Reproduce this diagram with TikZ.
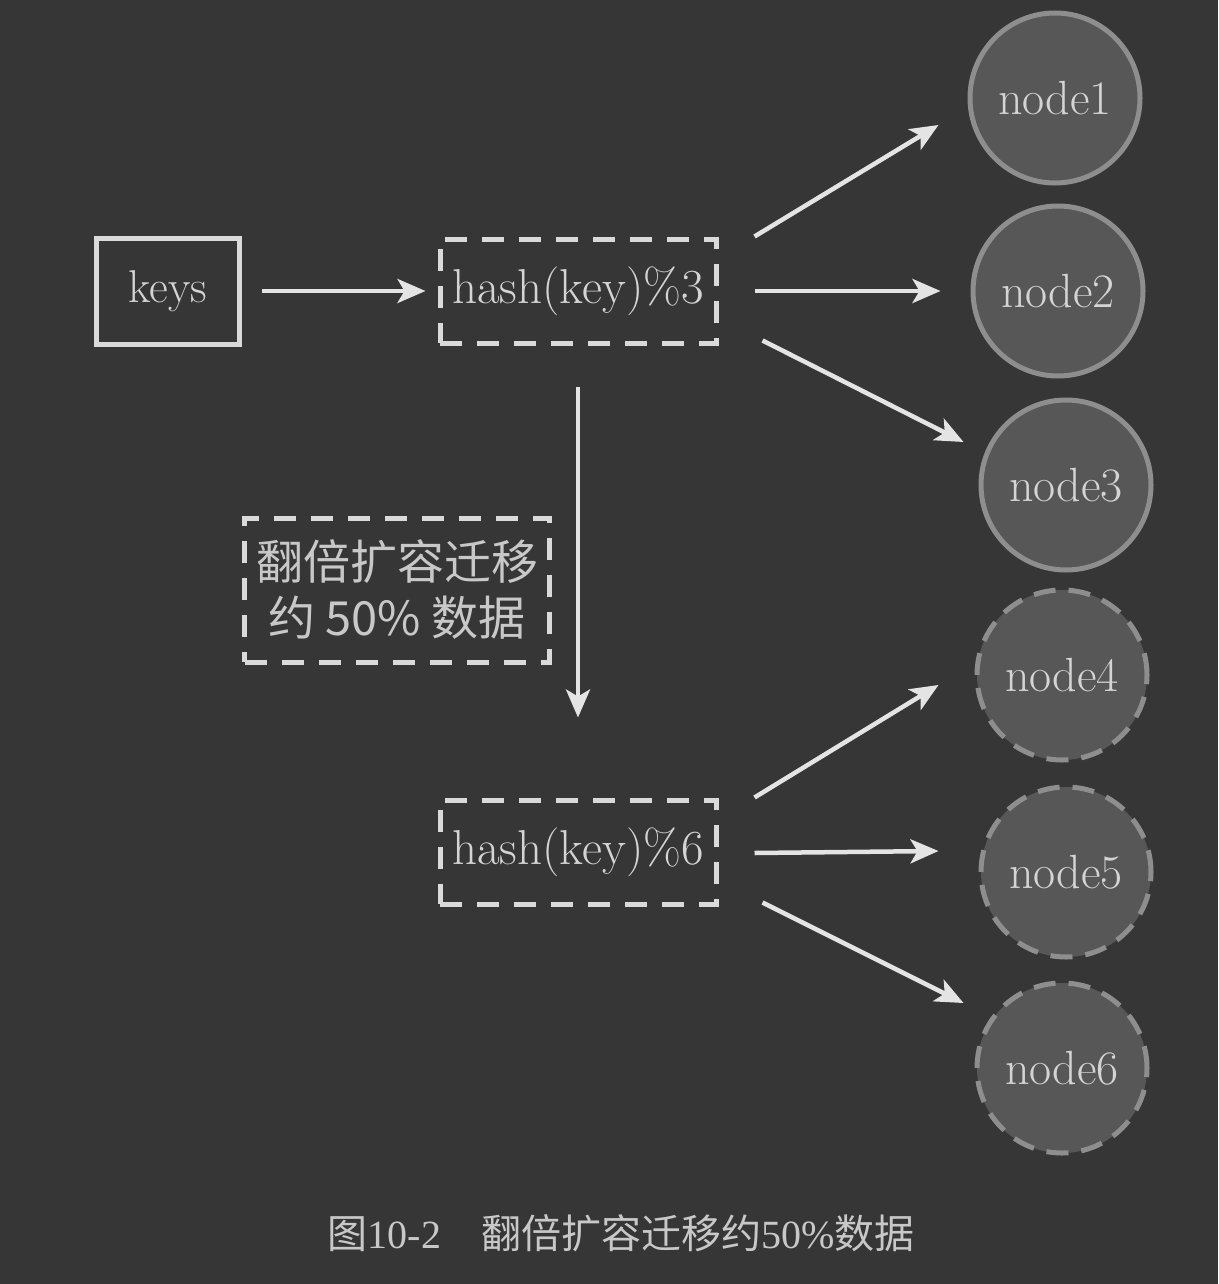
\documentclass[tikz,border=0pt]{standalone}
\usepackage{fontspec}
\newfontfamily\cjk{Noto Sans CJK SC}
\newfontfamily\capserif{Liberation Serif}
\usetikzlibrary{arrows.meta,calc}
\definecolor{bgc}{HTML}{363636}
\definecolor{linec}{HTML}{DADADA}
\definecolor{textc}{HTML}{D4D4D4}
\definecolor{circfill}{HTML}{575757}
\definecolor{circline}{HTML}{8E8E8E}
\definecolor{arrowc}{HTML}{E4E4E4}
\definecolor{capc}{HTML}{C8C8C8}
\tikzset{
  solidbox/.style={draw=linec, line width=5pt, minimum width=143pt, minimum height=106pt, inner sep=0pt, text=textc, font=\fontsize{46}{54}\selectfont},
  dashbox/.style={draw=linec, line width=5pt, dash pattern=on 22pt off 15pt, minimum width=276pt, minimum height=104pt, inner sep=0pt, text=textc, font=\fontsize{49}{56}\selectfont},
  notebox/.style={draw=linec, line width=5pt, dash pattern=on 22pt off 15pt, minimum width=305pt, minimum height=144pt, inner sep=0pt, text=capc, align=center, font=\cjk\fontsize{47}{56}\selectfont},
  srv/.style={circle, draw=circline, fill=circfill, line width=5pt, minimum size=170pt, inner sep=0pt, text=textc, font=\fontsize{48}{54}\selectfont},
  srvnew/.style={srv, dash pattern=on 22pt off 13pt},
  arr/.style={draw=arrowc, line width=4.5pt, -{Stealth[length=28pt, width=24pt, inset=7pt]}},
  captext/.style={text=capc, inner sep=0pt, font=\capserif\fontsize{40}{46}\selectfont}
}
\begin{document}
\begin{tikzpicture}[x=1pt,y=-1pt]
\fill[bgc] (0,0) rectangle (1218,1284);
\useasboundingbox (0,0) rectangle (1218,1284);

\node[solidbox] (keys) at (168,291) {keys};
\node[dashbox] (hash3) at (578,291) {hash(key)\%3};
\node[dashbox] (hash6) at (578,852) {hash(key)\%6};
\node[notebox] (note) at (397,590) {翻倍扩容迁移\\约 50\% 数据};

\node[srv] (node1) at (1055,98) {node1};
\node[srv] (node2) at (1058,291) {node2};
\node[srv] (node3) at (1066,485) {node3};
\node[srvnew] (node4) at (1062,675) {node4};
\node[srvnew] (node5) at (1066,872) {node5};
\node[srvnew] (node6) at (1062,1068) {node6};

\draw[arr, shorten <=20pt, shorten >=12pt] (keys.east) -- (hash3.west);
\draw[arr] ($(hash3.north east)+(36,0)$) -- ($(node1.west)+(-29,27)$);
\draw[arr, shorten <=36pt, shorten >=30pt] (hash3.east) -- (node2.west);
\draw[arr] ($(hash3.south east)+(44,-5)$) -- ($(node3.west)+(-15,-43)$);
\draw[arr, shorten <=41pt, shorten >=80pt] (hash3.south) -- (hash6.north);
\draw[arr] ($(hash6.north east)+(36,0)$) -- ($(node4.west)+(-36,10)$);
\draw[arr] ($(hash6.east)+(36,1)$) -- ($(node5.west)+(-40,-21)$);
\draw[arr] ($(hash6.south east)+(44,-4)$) -- ($(node6.west)+(-11,-65)$);

\node[captext] (cap) at (621,1233) {{\cjk 图}10-2{\cjk 　翻倍扩容迁移约}50\%{\cjk 数据}};
\end{tikzpicture}
\end{document}
